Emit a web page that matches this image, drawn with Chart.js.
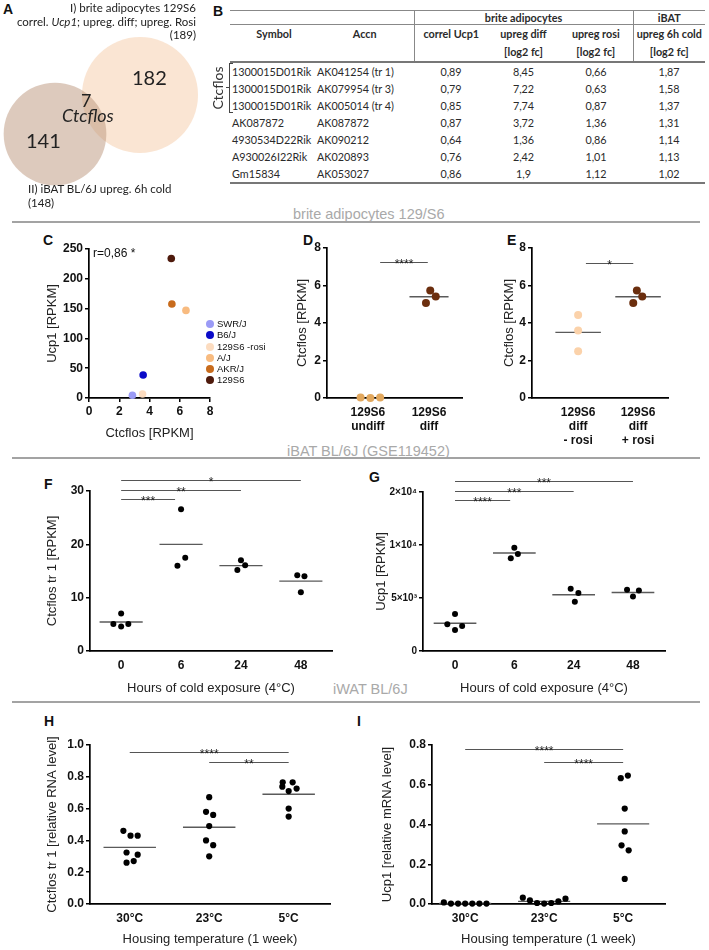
<!DOCTYPE html>
<html>
<head>
<meta charset="utf-8">
<script src="https://cdn.jsdelivr.net/npm/chart.js@4.4.1/dist/chart.umd.min.js"></script>
<style>
  body { margin:0; width:709px; height:950px; position:relative; overflow:hidden; background:#fff;
         font-family:"Liberation Sans", Arial, sans-serif; color:#111; }
  canvas { position:absolute; }
  .pl { position:absolute; font-weight:bold; font-size:14px; line-height:14px; }
  .sec { position:absolute; color:#a9a9a9; font-size:14.5px; line-height:16px; white-space:nowrap; }
  .rule { position:absolute; left:12px; width:688px; height:2px; background:#a3a3a3; }
  .venn { position:absolute; font-family:Lato, sans-serif; color:#222; white-space:nowrap; }
  .txt { position:absolute; white-space:nowrap; }
  #tbl { position:absolute; left:230px; top:10px; border-collapse:collapse; table-layout:fixed; width:475px;
         font-family:Lato, sans-serif; font-size:10.8px; color:#2a2a2a; }
  #tbl th, #tbl td { padding:0; white-space:nowrap; }
  #tbl tr.h1 th { height:13px; line-height:13px; border-top:1px solid #888; border-bottom:1px solid #888; text-align:center; }
  #tbl tr.h2 th { height:33px; line-height:18px; vertical-align:top; text-align:center; border-bottom:2px solid #777; }
  #tbl .vl { border-left:1px solid #888; }
  #tbl td { height:17px; line-height:17px; text-align:center; }
  #tbl tbody tr:last-child td { border-bottom:2px solid #777; }
  #tbl .l { text-align:left; padding-left:2px; }
  #legC { position:absolute; left:206px; top:318px; font-size:9.5px; line-height:11.3px; }
  #legC span.dot { display:inline-block; width:8px; height:8px; border-radius:50%; margin-right:3px; vertical-align:-1px; }
</style>
</head>
<body>

<!-- panel letters -->
<div class="pl" style="left:3px;top:2px">A</div>
<div class="pl" style="left:213px;top:4px">B</div>
<div class="pl" style="left:43px;top:233px">C</div>
<div class="pl" style="left:303px;top:233px">D</div>
<div class="pl" style="left:507px;top:233px">E</div>
<div class="pl" style="left:44px;top:477px">F</div>
<div class="pl" style="left:369px;top:470px">G</div>
<div class="pl" style="left:44px;top:714px">H</div>
<div class="pl" style="left:357px;top:714px">I</div>

<!-- section headers -->
<div class="sec" style="left:293px;top:206px">brite adipocytes 129/S6</div>
<div class="rule" style="top:221px"></div>
<div class="sec" style="left:287px;top:443px">iBAT BL/6J (GSE119452)</div>
<div class="rule" style="top:457px"></div>
<div class="sec" style="left:333px;top:681px">iWAT BL/6J</div>
<div class="rule" style="top:701px"></div>

<!-- panel A : Venn -->
<canvas id="venn" width="220" height="210" style="left:0;top:0"></canvas>
<div class="venn" style="right:513px;top:1px;font-size:11.5px;text-align:right;line-height:13.5px">
  I) brite adipocytes 129S6<br>correl. <i>Ucp1</i>; upreg. diff; upreg. Rosi<br>(189)</div>
<div class="venn" id="vOnly1" style="left:132px;top:65px;font-size:20px"></div>
<div class="venn" id="vShared" style="left:81px;top:89px;font-size:18px"></div>
<div class="venn" style="left:62px;top:104px;font-size:18px;font-style:italic">Ctcflos</div>
<div class="venn" id="vOnly2" style="left:26px;top:128px;font-size:20px"></div>
<div class="venn" style="left:28px;top:182px;font-size:11.5px;line-height:13.5px">II) iBAT BL/6J upreg. 6h cold<br>(148)</div>

<!-- panel B : table -->
<table id="tbl">
  <colgroup><col style="width:86px"><col style="width:98px"><col style="width:74px"><col style="width:71px"><col style="width:74px"><col style="width:72px"></colgroup>
  <thead>
    <tr class="h1"><th colspan="2"></th><th colspan="3" class="vl">brite adipocytes</th><th class="vl">iBAT</th></tr>
    <tr class="h2"><th class="l">Symbol</th><th>Accn</th><th class="vl">correl Ucp1</th><th>upreg diff<br>[log2 fc]</th><th>upreg rosi<br>[log2 fc]</th><th class="vl">upreg 6h cold<br>[log2 fc]</th></tr>
  </thead>
  <tbody id="tbody"></tbody>
</table>
<div class="venn" style="left:191px;top:79px;width:54px;height:18px;line-height:18px;text-align:center;font-size:14px;color:#333;transform:rotate(-90deg)">Ctcflos</div>
<div style="position:absolute;left:229px;top:63px;width:3px;height:48px;border:1px solid #444;border-right:none"></div>
<div style="position:absolute;left:226px;top:87px;width:3px;height:1px;background:#444"></div>

<!-- panel C -->
<canvas id="chartC" width="177" height="208" style="left:41px;top:237px"></canvas>
<div class="txt" style="left:93px;top:246px;font-size:12px">r=0,86 *</div>
<div id="legC"></div>

<!-- panels D - I -->
<canvas id="chartD" width="177" height="204" style="left:291px;top:236px"></canvas>
<canvas id="chartE" width="176" height="212" style="left:498px;top:236px"></canvas>
<canvas id="chartF" width="299" height="235" style="left:41px;top:465px"></canvas>
<canvas id="chartG" width="303" height="234" style="left:370px;top:466px"></canvas>
<canvas id="chartH" width="297" height="226" style="left:41px;top:725px"></canvas>
<canvas id="chartI" width="297" height="226" style="left:376px;top:725px"></canvas>

<script>
// ---- panel A: Venn counts
const vennTotals = [189, 148];
const vennOnly = [182, 141];
const vennShared = 7;

// ---- panel B: table
const tblSymbol = ['1300015D01Rik', '1300015D01Rik', '1300015D01Rik', 'AK087872', '4930534D22Rik', 'A930026I22Rik', 'Gm15834'];
const tblAccn = ['AK041254 (tr 1)', 'AK079954 (tr 3)', 'AK005014 (tr 4)', 'AK087872', 'AK090212', 'AK020893', 'AK053027'];
const tblCorrel = ['0,89', '0,79', '0,85', '0,87', '0,64', '0,76', '0,86'];
const tblDiff = ['8,45', '7,22', '7,74', '3,72', '1,36', '2,42', '1,9'];
const tblRosi = ['0,66', '0,63', '0,87', '1,36', '0,86', '1,01', '1,12'];
const tblCold = ['1,87', '1,58', '1,37', '1,31', '1,14', '1,13', '1,02'];

// ---- panel C: strains
const strains = ['SWR/J', 'B6/J', '129S6 -rosi', 'A/J', 'AKR/J', '129S6'];
const strainCtcflos = [2.87, 3.58, 3.54, 6.41, 5.48, 5.44];
const strainUcp1 = [4.5, 38.6, 6.7, 147, 157.7, 234];
const strainColors = ['#9b9bf6', '#0a0ac8', '#fcdcc0', '#f8bb80', '#c86b1c', '#4e1a0c'];

// ---- panel D
const dCats = [['129S6', 'undiff'], ['129S6', 'diff']];
const dValues = [[0.03, 0.0, 0.03], [5.74, 5.42, 5.07]];
const dOffsets = [[-0.12, 0.04, 0.2], [0.02, 0.11, -0.05]];
const dMeans = [null, 5.4];
const dColors = ['#e2a85e', '#6b2e0e'];
const dSig = [{ from: 0.2, to: 0.98, y: 7.25, text: '****' }];

// ---- panel E
const eCats = [['129S6', 'diff', '- rosi'], ['129S6', 'diff', '+ rosi']];
const eValues = [[4.43, 3.6, 2.49], [5.74, 5.42, 5.07]];
const eOffsets = [[0, 0, 0], [-0.02, 0.07, -0.08]];
const eMeans = [3.5, 5.4];
const eColors = ['#fbd2aa', '#6b2e0e'];
const eSig = [{ from: 0.13, to: 0.92, y: 7.2, text: '*' }];

// ---- panels F, G: hours of cold
const coldHours = ['0', '6', '24', '48'];
const fValues = [[7.05, 5.05, 4.6, 5.05], [26.6, 16.0, 17.5], [17.0, 15.2, 16.1], [14.2, 14.0, 11.0]];
const fOffsets = [[0, -0.13, 0, 0.12], [0, -0.06, 0.07], [0, -0.06, 0.07], [-0.06, 0.06, 0]];
const fMeans = [5.43, 20.0, 16.0, 13.1];
const fSig = [{ from: 0, to: 0.9, y: 28.5, text: '***' }, { from: 0, to: 2, y: 30.2, text: '**' }, { from: 0, to: 3, y: 32.1, text: '*' }];

const gValues = [[3500, 2520, 1990, 2370], [9750, 8740, 9150], [5870, 4640, 5460], [5770, 5140, 5710]];
const gOffsets = [[0, -0.13, 0, 0.12], [0, -0.06, 0.06], [-0.05, 0.02, 0.08], [-0.1, 0, 0.1]];
const gMeans = [2620, 9240, 5300, 5520];
const gTicks = [0, 5000, 10000, 20000];
const gTickLabels = ['0', '5×10³', '1×10⁴', '2×10⁴'];
const gSig = [{ from: 0, to: 0.93, y: 18400, text: '****' }, { from: 0, to: 2, y: 20200, text: '***' }, { from: 0, to: 3, y: 22100, text: '***' }];

// ---- panels H, I: housing temperature
const housing = ['30°C', '23°C', '5°C'];
const hValues = [[0.46, 0.43, 0.43, 0.324, 0.31, 0.26, 0.27], [0.672, 0.58, 0.56, 0.49, 0.40, 0.37, 0.30], [0.765, 0.765, 0.738, 0.71, 0.726, 0.60, 0.55]];
const hOffsets = [[-0.08, 0.01, 0.1, -0.04, 0.1, -0.04, 0.05], [0, -0.04, 0.05, 0, -0.04, 0.05, 0], [-0.075, 0.05, -0.08, 0, 0.1, 0, 0]];
const hMeans = [0.356, 0.483, 0.69];
const hSig = [{ from: 0, to: 2, y: 0.955, text: '****' }, { from: 1, to: 2, y: 0.893, text: '**' }];

const iValues = [[0.008, 0.002, 0.002, 0.002, 0.002, 0.002, 0.002], [0.032, 0.018, 0.005, 0.002, 0.005, 0.013, 0.027], [0.633, 0.646, 0.48, 0.365, 0.295, 0.27, 0.126]];
const iOffsets = [[-0.27, -0.18, -0.09, 0, 0.09, 0.18, 0.27], [-0.27, -0.18, -0.09, 0, 0.09, 0.18, 0.27], [-0.03, 0.06, 0.02, 0.02, -0.02, 0.07, 0.02]];
const iMeans = [0.003, 0.013, 0.403];
const iSig = [{ from: 0, to: 2, y: 0.78, text: '****' }, { from: 1, to: 2, y: 0.714, text: '****' }];

Chart.defaults.font.family = '"Liberation Sans", Arial, sans-serif';
Chart.defaults.color = '#111';
Chart.defaults.animation = false;
Chart.defaults.events = [];
Chart.defaults.plugins.legend.display = false;
Chart.defaults.plugins.tooltip.enabled = false;

// y axis of G is split: 0-1e4 in two steps, 1e4-2e4 in one
class SegmentedScale extends Chart.LinearScale {
  static id = 'segmented';
  static defaults = Chart.LinearScale.defaults;
  seg(v) { return v <= 10000 ? v / 5000 : 2 + (v - 10000) / 10000; }
  getPixelForValue(v) { return this.getPixelForDecimal(this.seg(v) / 3); }
  getValueForPixel(p) {
    const s = this.getDecimalForPixel(p) * 3;
    return s <= 2 ? s * 5000 : 10000 + (s - 2) * 10000;
  }
}
Chart.register(SegmentedScale);

// ---- fill in texts
document.getElementById('vOnly1').textContent = vennOnly[0];
document.getElementById('vOnly2').textContent = vennOnly[1];
document.getElementById('vShared').textContent = vennShared;

const tbody = document.getElementById('tbody');
tblSymbol.forEach((s, i) => {
  const tr = document.createElement('tr');
  tr.innerHTML = '<td class="l">' + s + '</td><td class="l" style="padding-left:1px">' + tblAccn[i] + '</td><td>' +
    tblCorrel[i] + '</td><td>' + tblDiff[i] + '</td><td>' + tblRosi[i] + '</td><td>' + tblCold[i] + '</td>';
  tbody.appendChild(tr);
});

document.getElementById('legC').innerHTML = strains.map((s, i) =>
  '<div><span class="dot" style="background:' + strainColors[i] + '"></span>' + s + '</div>').join('');

// ---- Venn
new Chart(document.getElementById('venn'), {
  type: 'bubble',
  data: {
    datasets: [
      { data: [{ x: 55, y: 134, r: 4.22 * Math.sqrt(vennTotals[1]) }], backgroundColor: 'rgba(188,150,124,0.5)', borderWidth: 0, clip: false },
      { data: [{ x: 140, y: 95, r: 4.22 * Math.sqrt(vennTotals[0]) }], backgroundColor: 'rgba(246,204,168,0.5)', borderWidth: 0, clip: false }
    ]
  },
  options: {
    responsive: false,
    layout: { padding: 0, autoPadding: false },
    scales: {
      x: { display: false, min: 0, max: 220 },
      y: { display: false, min: 0, max: 210, reverse: true }
    }
  }
});

// ---- helpers
function axisY(o) {
  return {
    type: o.type || 'linear', position: 'left', min: o.min, max: o.max,
    afterBuildTicks: s => { s.ticks = o.ticks.map(v => ({ value: v })); },
    afterFit: s => { s.width = o.width; },
    border: { display: true, color: '#000', width: 1.7 },
    grid: { display: true, drawOnChartArea: false, drawTicks: true, color: '#000', lineWidth: 1.5, tickLength: 4 },
    ticks: { color: '#111', padding: 2, font: { size: o.tickSize || 12, weight: 'bold' }, callback: o.label },
    title: { display: true, text: o.title, color: '#222', font: { size: 13 } }
  };
}

function axisXcat(o) {
  return {
    type: 'linear', position: 'bottom', min: o.min, max: o.max,
    afterBuildTicks: s => { s.ticks = o.cats.map((c, i) => ({ value: i })); },
    afterFit: s => { s.height = o.height; },
    border: { display: true, color: '#000', width: 1.7 },
    grid: { display: false, drawTicks: false },
    ticks: { color: '#111', padding: 7, maxRotation: 0, autoSkip: false, font: { size: 12, weight: 'bold' },
             callback: v => o.cats[Math.round(v)] },
    title: { display: !!o.title, text: o.title || '', color: '#222', font: { size: 13 } }
  };
}

function sigPlugin(bars) {
  return {
    id: 'sig',
    afterDraw(chart) {
      const { ctx } = chart;
      const x = chart.scales.x, y = chart.scales.y;
      ctx.save();
      bars.forEach(b => {
        const py = Math.round(y.getPixelForValue(b.y)) + 0.5;
        const x1 = x.getPixelForValue(b.from), x2 = x.getPixelForValue(b.to);
        ctx.strokeStyle = '#555';
        ctx.lineWidth = 1.2;
        ctx.beginPath(); ctx.moveTo(x1, py); ctx.lineTo(x2, py); ctx.stroke();
        ctx.fillStyle = '#222';
        ctx.font = '12px "Liberation Sans", Arial, sans-serif';
        ctx.textAlign = 'center';
        ctx.textBaseline = 'alphabetic';
        ctx.fillText(b.text, (x1 + x2) / 2, py + 5);
      });
      ctx.restore();
    }
  };
}

function dotChart(id, o) {
  const datasets = [];
  o.values.forEach((vals, i) => {
    datasets.push({
      data: vals.map((v, j) => ({ x: i + o.offsets[i][j], y: v })),
      pointRadius: o.radius, pointBackgroundColor: o.colors ? o.colors[i] : '#000',
      pointBorderWidth: 0, showLine: false, clip: false
    });
    if (o.means[i] !== null) {
      datasets.push({
        data: [{ x: i - o.halfW, y: o.means[i] }, { x: i + o.halfW, y: o.means[i] }],
        showLine: true, borderColor: '#5a5a5a', borderWidth: 1.4, pointRadius: 0, clip: false
      });
    }
  });
  return new Chart(document.getElementById(id), {
    type: 'scatter',
    data: { datasets },
    options: {
      responsive: false,
      layout: { padding: { top: o.padTop, right: o.padRight, left: 0, bottom: 0 } },
      scales: { x: o.x, y: o.y }
    },
    plugins: [sigPlugin(o.sig)]
  });
}

// ---- panel C
new Chart(document.getElementById('chartC'), {
  type: 'scatter',
  data: {
    datasets: strains.map((s, i) => ({
      label: s,
      data: [{ x: strainCtcflos[i], y: strainUcp1[i] }],
      pointRadius: 3.8, pointBackgroundColor: strainColors[i], pointBorderWidth: 0, clip: false
    }))
  },
  options: {
    responsive: false,
    layout: { padding: { top: 12, right: 8, left: 0, bottom: 0 } },
    scales: {
      x: {
        type: 'linear', min: 0, max: 8,
        afterBuildTicks: s => { s.ticks = [0, 2, 4, 6, 8].map(v => ({ value: v })); },
        afterFit: s => { s.height = 47; },
        border: { display: true, color: '#000', width: 1.7 },
        grid: { display: true, drawOnChartArea: false, drawTicks: true, color: '#000', lineWidth: 1.5, tickLength: 4 },
        ticks: { color: '#111', padding: 2, font: { size: 12, weight: 'bold' } },
        title: { display: true, text: 'Ctcflos [RPKM]', color: '#222', font: { size: 13 } }
      },
      y: axisY({ min: 0, max: 250, ticks: [0, 50, 100, 150, 200, 250], width: 48, title: 'Ucp1 [RPKM]' })
    }
  }
});

// ---- panel D
dotChart('chartD', {
  values: dValues, offsets: dOffsets, means: dMeans, colors: dColors, radius: 4, halfW: 0.32,
  sig: dSig, padTop: 12, padRight: 6,
  x: axisXcat({ cats: dCats, min: -0.67, max: 1.54, height: 42 }),
  y: axisY({ min: 0, max: 8, ticks: [0, 2, 4, 6, 8], width: 36, title: 'Ctcflos [RPKM]' })
});

// ---- panel E
dotChart('chartE', {
  values: eValues, offsets: eOffsets, means: eMeans, colors: eColors, radius: 4, halfW: 0.38,
  sig: eSig, padTop: 12, padRight: 6,
  x: axisXcat({ cats: eCats, min: -0.77, max: 1.5, height: 50 }),
  y: axisY({ min: 0, max: 8, ticks: [0, 2, 4, 6, 8], width: 34, title: 'Ctcflos [RPKM]' })
});

// ---- panel F
dotChart('chartF', {
  values: fValues, offsets: fOffsets, means: fMeans, radius: 3, halfW: 0.36,
  sig: fSig, padTop: 26, padRight: 8,
  x: axisXcat({ cats: coldHours, min: -0.52, max: 3.52, height: 49, title: 'Hours of cold exposure (4°C)' }),
  y: axisY({ min: 0, max: 30, ticks: [0, 10, 20, 30], width: 49, title: 'Ctcflos tr 1 [RPKM]' })
});

// ---- panel G
dotChart('chartG', {
  values: gValues, offsets: gOffsets, means: gMeans, radius: 3, halfW: 0.36,
  sig: gSig, padTop: 26, padRight: 8,
  x: axisXcat({ cats: coldHours, min: -0.54, max: 3.54, height: 49, title: 'Hours of cold exposure (4°C)' }),
  y: axisY({ type: 'segmented', min: 0, max: 20000, ticks: gTicks, width: 53, title: 'Ucp1 [RPKM]', tickSize: 10,
             label: v => gTickLabels[gTicks.indexOf(v)] })
});

// ---- panel H
dotChart('chartH', {
  values: hValues, offsets: hOffsets, means: hMeans, radius: 3.1, halfW: 0.33,
  sig: hSig, padTop: 20, padRight: 8,
  x: axisXcat({ cats: housing, min: -0.5, max: 2.52, height: 47, title: 'Housing temperature (1 week)' }),
  y: axisY({ min: 0, max: 1, ticks: [0, 0.2, 0.4, 0.6, 0.8, 1.0], width: 49, title: 'Ctcflos tr 1 [relative RNA level]',
             label: v => v.toFixed(1) })
});

// ---- panel I
dotChart('chartI', {
  values: iValues, offsets: iOffsets, means: iMeans, radius: 3.1, halfW: 0.33,
  sig: iSig, padTop: 20, padRight: 8,
  x: axisXcat({ cats: housing, min: -0.42, max: 2.53, height: 47, title: 'Housing temperature (1 week)' }),
  y: axisY({ min: 0, max: 0.8, ticks: [0, 0.2, 0.4, 0.6, 0.8], width: 56, title: 'Ucp1 [relative mRNA level]',
             label: v => v.toFixed(1) })
});
</script>
</body>
</html>
